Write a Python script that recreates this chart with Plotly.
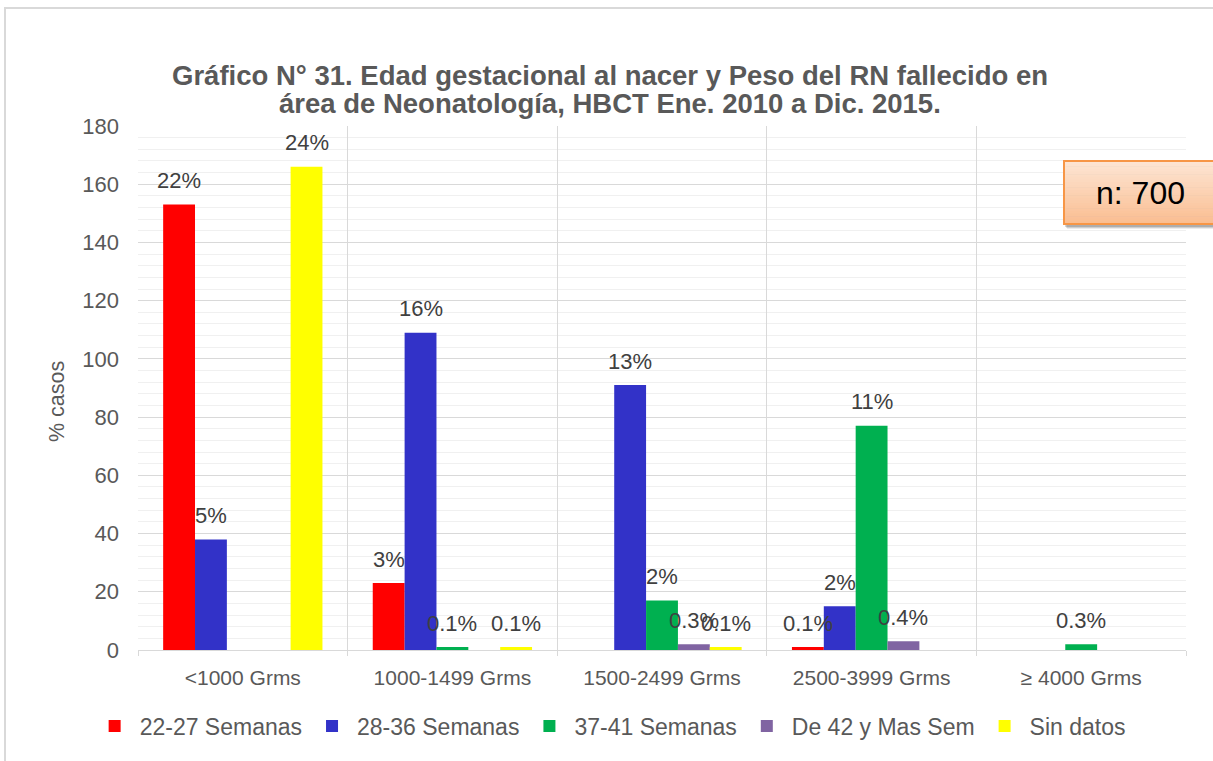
import plotly.graph_objects as go

# Categorías de peso al nacer
categories = ["<1000 Grms", "1000-1499 Grms", "1500-2499 Grms", "2500-3999 Grms", "≥ 4000 Grms"]

# Casos por edad gestacional (None = sin casos)
sem_22_27 = [153, 23, None, 1, None]
sem_28_36 = [38, 109, 91, 15, None]
sem_37_41 = [None, 1, 17, 77, 2]
sem_42_mas = [None, None, 2, 3, None]
sin_datos = [166, 1, 1, None, None]

series_names = ["22-27 Semanas", "28-36 Semanas", "37-41 Semanas", "De 42 y Mas Sem", "Sin datos"]
series_values = [sem_22_27, sem_28_36, sem_37_41, sem_42_mas, sin_datos]
series_colors = ["#ff0000", "#3232c8", "#00b050", "#8064a2", "#ffff00"]

title_lines = [
    "Gráfico N° 31. Edad gestacional al nacer y Peso del RN fallecido en",
    "área de Neonatología, HBCT Ene. 2010 a Dic. 2015.",
]

n_total = sum(v for s in series_values for v in s if v is not None)

W, H = 1213, 761
ML, MR, MT, MB = 138, 27, 126, 111
PW, PH = W - ML - MR, H - MT - MB
BARGAP = 0.24
FONT = "Liberation Sans, Arial, sans-serif"
GREY_TXT = "#595959"


def px_x(p):
    return (p - ML) / PW


def px_y(p):
    return (H - MB - p) / PH


def pct_label(v):
    pct = v / n_total * 100
    return f"{pct:.1f}%" if pct < 1 else f"{round(pct)}%"


fig = go.Figure()
for name, vals, color in zip(series_names, series_values, series_colors):
    fig.add_trace(go.Bar(
        x=categories, y=vals, name=name,
        marker=dict(color=color, line=dict(width=0)),
    ))

annotations = []

# Título en dos líneas
for line, yc in zip(title_lines, [76, 103]):
    annotations.append(dict(
        x=px_x(610), y=px_y(yc), xref="paper", yref="paper", text=f"<b>{line}</b>",
        showarrow=False, xanchor="center", yanchor="middle",
        font=dict(family=FONT, size=27.5, color=GREY_TXT),
    ))

# Etiquetas de porcentaje sobre cada barra
nser = len(series_values)
bw = (1 - BARGAP) / nser
for j, vals in enumerate(series_values):
    for i, v in enumerate(vals):
        if v is None:
            continue
        annotations.append(dict(
            x=i + (j - (nser - 1) / 2) * bw, y=v, xref="x", yref="y",
            text=pct_label(v), showarrow=False, yanchor="middle", yshift=24,
            font=dict(family=FONT, size=22, color="#404040"),
        ))

# Título del eje Y
annotations.append(dict(
    x=px_x(57), y=px_y(402), xref="paper", yref="paper", text="% casos",
    textangle=-90, showarrow=False, xanchor="center", yanchor="middle",
    font=dict(family=FONT, size=21.5, color=GREY_TXT),
))

# Recuadro con el total de casos
bx0, bx1, by0, by1 = 1064, 1240, 161, 224
shapes = []
# borde exterior del gráfico
shapes.append(dict(type="rect", xref="paper", yref="paper",
                   x0=px_x(5), x1=px_x(1260), y0=px_y(8), y1=px_y(800),
                   line=dict(color="#d9d9d9", width=2), fillcolor="rgba(0,0,0,0)", layer="below"))
# sombra
for off, alpha in [(5, 0.08), (4, 0.12), (3, 0.16)]:
    shapes.append(dict(type="rect", xref="paper", yref="paper",
                       x0=px_x(bx0 + off - 2), x1=px_x(bx1 + off), y0=px_y(by0 + off), y1=px_y(by1 + off),
                       line=dict(width=0), fillcolor=f"rgba(0,0,0,{alpha})"))
# relleno degradado
top_rgb = (253, 229, 211)
bot_rgb = (250, 190, 146)
nb = 24
for k in range(nb):
    t = k / (nb - 1)
    c = tuple(round(a + (b - a) * t) for a, b in zip(top_rgb, bot_rgb))
    ya = by0 + (by1 - by0) * k / nb
    yb = by0 + (by1 - by0) * (k + 1) / nb
    shapes.append(dict(type="rect", xref="paper", yref="paper",
                       x0=px_x(bx0), x1=px_x(bx1), y0=px_y(ya), y1=px_y(yb + 0.5),
                       line=dict(width=0), fillcolor=f"rgb{c}"))
shapes.append(dict(type="rect", xref="paper", yref="paper",
                   x0=px_x(bx0), x1=px_x(bx1), y0=px_y(by0), y1=px_y(by1),
                   line=dict(color="#f79646", width=2), fillcolor="rgba(0,0,0,0)"))
annotations.append(dict(
    x=px_x(1140), y=px_y(193), xref="paper", yref="paper", text=f"n: {n_total}",
    showarrow=False, xanchor="center", yanchor="middle",
    font=dict(family=FONT, size=32, color="#000000"),
))

fig.update_layout(
    width=W, height=H,
    margin=dict(l=ML, r=MR, t=MT, b=MB),
    paper_bgcolor="white", plot_bgcolor="white",
    barmode="group", bargap=BARGAP, bargroupgap=0,
    xaxis=dict(
        type="category", tickson="boundaries", showgrid=True, gridcolor="#d9d9d9", gridwidth=1,
        showline=True, linecolor="#d9d9d9", linewidth=1,
        ticks="outside", ticklen=5, tickcolor="#d9d9d9",
        tickfont=dict(family=FONT, size=21, color=GREY_TXT),
        ticklabelstandoff=9,
    ),
    yaxis=dict(
        range=[0, 180], dtick=20, tick0=0, showgrid=True, gridcolor="#d9d9d9", gridwidth=1,
        zeroline=False, showline=False, ticks="",
        tickfont=dict(family=FONT, size=22, color=GREY_TXT),
        ticklabelstandoff=18,
        minor=dict(dtick=4, showgrid=True, gridcolor="#f0f0f0", gridwidth=1),
    ),
    legend=dict(
        orientation="h", xref="container", yref="container",
        x=0.503, xanchor="center", y=1 - 726 / H, yanchor="middle",
        font=dict(family=FONT, size=23, color=GREY_TXT),
        itemwidth=40, tracegroupgap=0,
    ),
    annotations=annotations,
    shapes=shapes,
    showlegend=True,
)

fig.write_html("out.html")
